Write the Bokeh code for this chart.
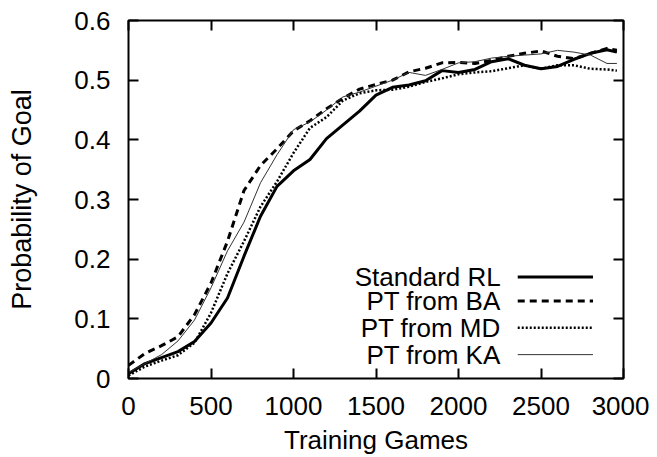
from bokeh.plotting import figure
from bokeh.models import Range1d, LinearAxis, FixedTicker, Label, Arrow
from bokeh.embed import file_html
from bokeh.resources import INLINE

# ---- data ----
games = [0, 100, 200, 300, 400, 500, 600, 700, 800, 900, 1000, 1100, 1200, 1300, 1400,
         1500, 1600, 1700, 1800, 1900, 2000, 2100, 2200, 2300, 2400, 2500, 2600, 2700,
         2800, 2900, 2960]
standard_rl = [0.008, 0.025, 0.035, 0.045, 0.062, 0.093, 0.135, 0.205, 0.272, 0.322, 0.348,
               0.367, 0.402, 0.425, 0.448, 0.475, 0.488, 0.492, 0.499, 0.516, 0.513, 0.518,
               0.531, 0.536, 0.525, 0.519, 0.523, 0.535, 0.545, 0.551, 0.547]
pt_ba = [0.022, 0.042, 0.055, 0.070, 0.107, 0.160, 0.230, 0.315, 0.357, 0.385, 0.415, 0.432,
         0.452, 0.470, 0.485, 0.493, 0.500, 0.514, 0.520, 0.529, 0.530, 0.528, 0.533, 0.540,
         0.545, 0.549, 0.540, 0.536, 0.545, 0.553, 0.550]
pt_md = [0.005, 0.020, 0.030, 0.039, 0.060, 0.110, 0.176, 0.230, 0.288, 0.330, 0.378, 0.420,
         0.438, 0.466, 0.478, 0.483, 0.484, 0.489, 0.497, 0.503, 0.510, 0.513, 0.515, 0.520,
         0.525, 0.519, 0.525, 0.525, 0.519, 0.518, 0.516]
pt_ka = [0.010, 0.025, 0.040, 0.063, 0.098, 0.152, 0.214, 0.262, 0.328, 0.375, 0.417, 0.430,
         0.450, 0.472, 0.480, 0.490, 0.500, 0.513, 0.508, 0.518, 0.529, 0.531, 0.537, 0.540,
         0.542, 0.544, 0.550, 0.547, 0.542, 0.528, 0.528]

x_ticks = [0, 500, 1000, 1500, 2000, 2500, 3000]
x_tick_labels = ["0", "500", "1000", "1500", "2000", "2500", "3000"]
y_ticks = [0, 0.1, 0.2, 0.3, 0.4, 0.5, 0.6]
y_tick_labels = ["0", "0.1", "0.2", "0.3", "0.4", "0.5", "0.6"]

series_names = ["Standard RL", "PT from BA", "PT from MD", "PT from KA"]

FONT = "Liberation Sans"
FS = "26px"

p = figure(width=649, height=457, output_backend="svg", toolbar_location=None,
           x_range=Range1d(0, 3000), y_range=Range1d(0, 0.6),
           min_border_left=128, min_border_right=26, min_border_top=20, min_border_bottom=77)
p.background_fill_color = "white"
p.border_fill_color = "white"
p.grid.visible = False
p.outline_line_color = "black"
p.outline_line_width = 2
p.outline_line_alpha = 1


def style_axis(ax, ticks, labels, show_labels=True):
    ax.ticker = FixedTicker(ticks=ticks)
    ax.minor_tick_line_color = None
    ax.major_tick_in = 10
    ax.major_tick_out = 0
    ax.major_tick_line_width = 2
    ax.major_tick_line_color = "black"
    ax.axis_line_color = None
    ax.major_label_text_font = FONT
    if show_labels:
        ax.major_label_overrides = {t: l for t, l in zip(ticks, labels)}
        ax.major_label_text_font_size = FS
        ax.major_label_text_color = "black"
    else:
        ax.major_label_text_font_size = "1px"
        ax.major_label_text_color = None
        ax.major_label_standoff = 0


style_axis(p.xaxis[0], x_ticks, x_tick_labels)
style_axis(p.yaxis[0], y_ticks, y_tick_labels)
p.xaxis[0].major_label_standoff = 18
p.yaxis[0].major_label_standoff = 18
p.xaxis[0].axis_label = "Training Games"
p.yaxis[0].axis_label = "Probability of Goal"
for ax in (p.xaxis[0], p.yaxis[0]):
    ax.axis_label_text_font = FONT
    ax.axis_label_text_font_style = "normal"
    ax.axis_label_text_color = "black"
p.xaxis[0].axis_label_text_font_size = "26px"
p.yaxis[0].axis_label_text_font_size = "27px"
p.xaxis[0].axis_label_standoff = 7
p.yaxis[0].axis_label_standoff = 34

top = LinearAxis()
style_axis(top, x_ticks, x_tick_labels, show_labels=False)
p.add_layout(top, "above")
right = LinearAxis()
style_axis(right, y_ticks, y_tick_labels, show_labels=False)
p.add_layout(right, "right")

styles = [
    dict(line_width=3, line_dash="solid"),
    dict(line_width=3, line_dash="7 5"),
    dict(line_width=2.5, line_dash="2 2"),
    dict(line_width=1, line_dash="solid"),
]
colors = ["black", "black", "black", "#333333"]
all_series = [standard_rl, pt_ba, pt_md, pt_ka]

for ys, st, c in zip(all_series, styles, colors):
    p.line(games, ys, line_color=c, **st)

# manual gnuplot-style legend (text right-aligned, sample to the right)
leg_text_x = 2256
leg_line_x0, leg_line_x1 = 2359, 2815
leg_rows_y = [0.170, 0.130, 0.085, 0.040]
for name, st, c, ly in zip(series_names, styles, colors, leg_rows_y):
    p.add_layout(Label(x=leg_text_x, y=ly, text=name, text_align="right",
                       text_baseline="middle", text_font=FONT, text_font_size=FS,
                       text_color="black"))
    p.add_layout(Arrow(x_start=leg_line_x0, y_start=ly, x_end=leg_line_x1, y_end=ly,
                       start=None, end=None, line_color=c, **st))

open("out.html", "w").write(file_html(p, INLINE))
